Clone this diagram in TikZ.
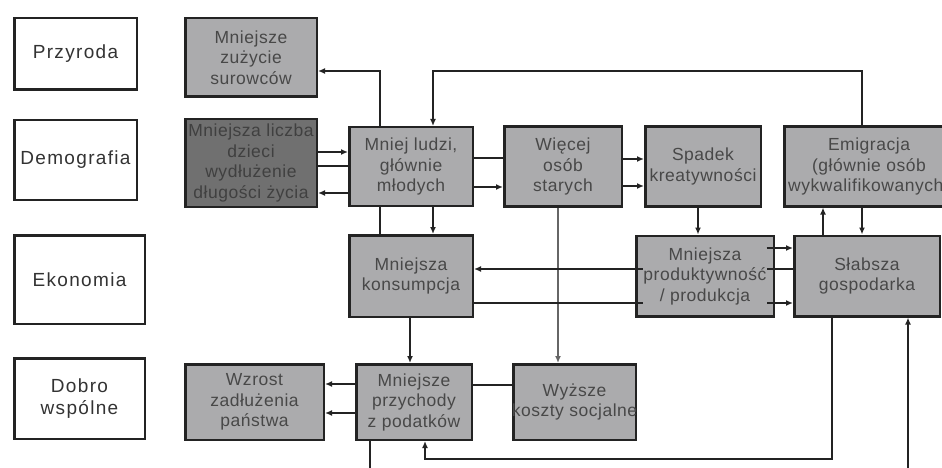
\documentclass[tikz,border=0pt]{standalone}
\usepackage{fontspec}
\setmainfont{Liberation Sans}[LetterSpace=3]
\usetikzlibrary{positioning}
\usetikzlibrary{arrows.meta}
\definecolor{boxgray}{RGB}{171,171,173}
\definecolor{kidsgray}{RGB}{112,112,112}
\definecolor{linegray}{RGB}{35,35,35}
\definecolor{textgray}{RGB}{72,72,72}
\tikzset{node distance=20pt,
box/.style={
draw=linegray,
line width=2.5pt,
fill=boxgray,
text=textgray,
align=center,
inner sep=0pt,
font=\fontsize{17.5}{20.5}\selectfont},
catbox/.style={
draw=linegray,
line width=2.5pt,
fill=white,
text=black!80,
align=center,
font=\fontsize{19}{22}\selectfont\addfontfeature{LetterSpace=7}},
lnk/.style={draw=linegray, line width=2.2pt},
thinlnk/.style={draw=linegray, line width=1.4pt},
arr/.style={-{Latex[length=7pt,width=6pt]}}}

\begin{document}
\begin{tikzpicture}[x=1pt,y=-1pt]
\useasboundingbox (0,0) rectangle (942,468);
\node[catbox, minimum width=122.5pt, minimum height=71.5pt] (przyroda) at (75.5,54) {Przyroda};
\node[catbox, minimum width=122.5pt, minimum height=79.5pt, below=28pt of przyroda] (demografia) {Demografia};
\node[catbox, minimum width=130.5pt, minimum height=88.5pt, below=33pt of demografia, xshift=4pt] (ekonomia) {Ekonomia};
\node[catbox, minimum width=130.5pt, minimum height=80.5pt, below=32pt of ekonomia] (dobro) {Dobro\\wspólne};

\node[box, minimum width=131.5pt, minimum height=78.5pt, right=46pt of przyroda, yshift=-3.5pt] (zuzycie) {Mniejsze\\zużycie\\surowców};
\node[box, fill=kidsgray, text=black!75, minimum width=131.5pt, minimum height=87.5pt, below=20pt of zuzycie] (dzieci) {Mniejsza liczba\\dzieci\\wydłużenie\\długości życia};
\node[box, minimum width=123.5pt, minimum height=78.5pt, right=30pt of dzieci, yshift=-3.5pt] (ludzi) {Mniej ludzi,\\głównie\\młodych};
\node[box, minimum width=117.5pt, minimum height=79.5pt, right=29pt of ludzi] (starych) {Więcej\\osób\\starych};
\node[box, minimum width=115.5pt, minimum height=79.5pt, right=21pt of starych] (spadek) {Spadek\\kreatywności};
\node[box, minimum width=169.5pt, minimum height=79.5pt, right=21pt of spadek] (emigracja) {Emigracja\\(głównie osób\\wykwalifikowanych)};
\node[box, minimum width=123.5pt, minimum height=81.5pt, below=27pt of ludzi] (konsumpcja) {Mniejsza\\konsumpcja};
\node[box, minimum width=137.5pt, minimum height=80.5pt, right=161pt of konsumpcja] (prod) {};
\node[box, minimum width=145.5pt, minimum height=80.5pt, right=18pt of prod] (slabsza) {Słabsza\\gospodarka};
\node[box, minimum width=115.5pt, minimum height=75.5pt, below=45pt of konsumpcja, xshift=3pt] (przychody) {Mniejsze\\przychody\\z podatków};
\node[box, minimum width=138.5pt, minimum height=75.5pt, left=30pt of przychody] (wzrost) {Wzrost\\zadłużenia\\państwa};
\node[box, minimum width=122.5pt, minimum height=75.5pt, right=39pt of przychody] (wyzsze) {Wyższe\\\makebox[118pt]{koszty socjalne}};

\draw[lnk, arr] (380,0 |- ludzi.north) |- (zuzycie.east |- 0,71);
\draw[thinlnk, arr] (862,0 |- emigracja.north) -- (862,71) -| (433,0 |- ludzi.north);
\draw[lnk, arr] (dzieci.east |- 0,152) -- (ludzi.west |- 0,152);
\draw[lnk] (dzieci.east |- 0,166) -- (ludzi.west |- 0,166);
\draw[lnk, arr] (ludzi.west |- 0,193) -- (dzieci.east |- 0,193);
\draw[lnk] (ludzi.east |- 0,158) -- (starych.west |- 0,158);
\draw[thinlnk, arr] (ludzi.east |- 0,187) -- (starych.west |- 0,187);
\draw[lnk, arr] (starych.east |- 0,159) -- (spadek.west |- 0,159);
\draw[thinlnk, arr] (starych.east |- 0,186) -- (spadek.west |- 0,186);
\draw[lnk, arr] (698,0 |- spadek.south) -- (698,0 |- prod.north);
\draw[lnk, arr] (823,0 |- slabsza.north) -- (823,0 |- emigracja.south);
\draw[lnk, arr] (862,0 |- emigracja.south) -- (862,0 |- slabsza.north);
\draw[lnk] (380,0 |- ludzi.south) -- (380,0 |- konsumpcja.north);
\draw[thinlnk, arr] (433,0 |- ludzi.south) -- (433,0 |- konsumpcja.north);
\draw[thinlnk, draw=black!60, arr] (558,0 |- starych.south) -- (558,0 |- wyzsze.north);
\draw[thinlnk, arr] (slabsza.west |- 0,269) -- (konsumpcja.east |- 0,269);
\draw[thinlnk, arr] (konsumpcja.east |- 0,303) -- (slabsza.west |- 0,303);
\draw[lnk, arr] (410,0 |- konsumpcja.south) -- (410,0 |- przychody.north);
\draw[lnk, arr] (przychody.west |- 0,384) -- (wzrost.east |- 0,384);
\draw[lnk, arr] (przychody.west |- 0,413) -- (wzrost.east |- 0,413);
\draw[lnk] (przychody.east |- 0,385) -- (wyzsze.west |- 0,385);
\draw[lnk, arr] (832,0 |- slabsza.south) -- (832,459) -| (425,0 |- przychody.south);
\draw[lnk, arr] (370,0 |- przychody.south) -- (370,490) -| (908,0 |- slabsza.south);

\node[box, draw=none, outer sep=0pt] (prodtxt) at (prod) {Mniejsza\\produktywność\\/ produkcja};
\draw[thinlnk, arr] (prodtxt.east |- 0,248) -- (slabsza.west |- 0,248);
\end{tikzpicture}
\end{document}
